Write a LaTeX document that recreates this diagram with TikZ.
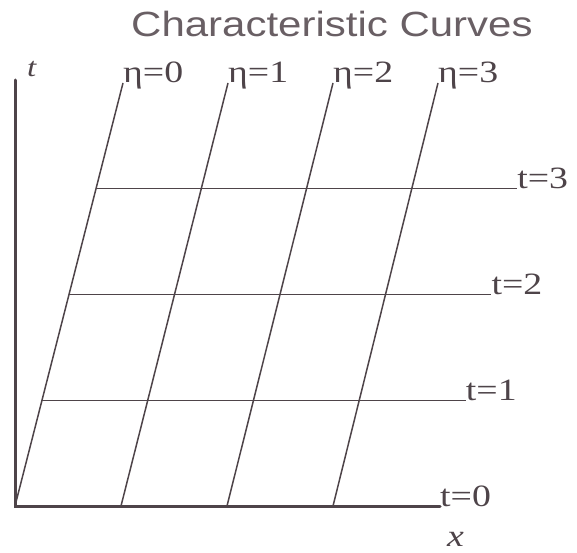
\documentclass[tikz,border=0pt]{standalone}
\usepackage{fontspec}
\setmainfont{Liberation Serif}
\newfontfamily\titlefont{Liberation Sans}
\usetikzlibrary{calc}
\definecolor{ink}{RGB}{78,68,73}
\definecolor{titleink}{RGB}{105,95,100}
\tikzset{
  axisline/.style={draw=ink, line width=3pt},
  charline/.style={draw=ink, line width=1.5pt},
  lbl/.style={anchor=base west, inner sep=0pt, text=ink, font=\fontsize{31}{31}\selectfont},
  axlbl/.style={anchor=base west, inner sep=0pt, text=ink},
}
\newcommand{\wide}[1]{\scalebox{1.22}[1]{#1}}
\begin{document}
\begin{tikzpicture}[x=1pt,y=1pt]
\useasboundingbox (0,0) rectangle (577,552);
% axes
\coordinate (O) at (15,46);
\coordinate (ytop) at (15,472);
\coordinate (xend) at (440,46);
% characteristic line ends
\foreach \k in {0,1,2,3}{
  \coordinate (b\k) at ({15+106*\k},46);
  \coordinate (e\k) at ({123+105*\k},469);
}
% horizontal line ends
\foreach \k in {1,2,3}{
  \coordinate (s\k) at ($(b0)!{\k/4}!(e0)$);
  \coordinate (r\k) at ({440+25.7*\k},{46+105.75*\k});
}
% horizontal lines
\foreach \k in {1,2,3}{
  \draw[charline] (s\k) -- (r\k);
}
% characteristic lines
\foreach \k in {0,1,2,3}{
  \draw[charline] (b\k) -- (e\k);
}
\draw[axisline, line cap=round] (ytop) -- (O) -- (xend);
% labels
\foreach \k in {0,1,2,3}{
  \node[lbl] (eta\k) at (e\k) {\wide{η=\k}};
}
\node[lbl] (t0) at (xend) {\wide{t=0}};
\foreach \k in {1,2,3}{
  \node[lbl] (t\k) at (r\k) {\wide{t=\k}};
}
\node[axlbl, font=\fontsize{27}{27}\selectfont\itshape] (tlab) at (27,475) {\wide{t}};
\node[axlbl, font=\fontsize{31}{31}\selectfont\itshape] (xlab) at (447,6) {\wide{x}};
\node[anchor=base west, inner sep=0pt, text=titleink, font=\titlefont\fontsize{35}{35}\selectfont] (title) at (131,515) {\scalebox{1.2}[1]{Characteristic Curves}};
\end{tikzpicture}
\end{document}
